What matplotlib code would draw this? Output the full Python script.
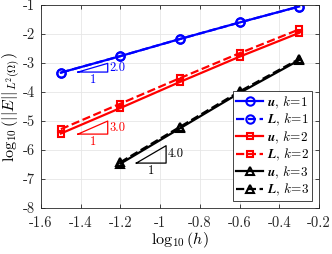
import numpy as np
import matplotlib
matplotlib.use("Agg")
import matplotlib.pyplot as plt

plt.rcParams['mathtext.fontset'] = 'cm'
plt.rcParams['font.family'] = 'serif'
plt.rcParams['font.serif'] = ['cmr10', 'DejaVu Serif']
plt.rcParams['axes.unicode_minus'] = False

# data (log10 of mesh size and error)
h12 = [-1.5, -1.2, -0.9, -0.6, -0.3]
h3 = [-1.2, -0.9, -0.6, -0.3]
u1 = [-3.33, -2.76, -2.17, -1.60, -1.05]
L1 = [-3.33, -2.76, -2.17, -1.60, -1.05]
u2 = [-5.43, -4.55, -3.65, -2.78, -1.96]
L2 = [-5.28, -4.40, -3.52, -2.66, -1.84]
u3 = [-6.47, -5.25, -4.03, -2.90]
L3 = [-6.42, -5.20, -3.98, -2.86]

xticks = [-1.6, -1.4, -1.2, -1.0, -0.8, -0.6, -0.4, -0.2]
xticklabels = ['-1.6', '-1.4', '-1.2', '-1', '-0.8', '-0.6', '-0.4', '-0.2']
yticks = [-8, -7, -6, -5, -4, -3, -2, -1]
yticklabels = ['-8', '-7', '-6', '-5', '-4', '-3', '-2', '-1']

# slope triangles: (x left, y bottom, width, slope, color)
slopes = [(-1.414, -3.31, 0.15, 2.0, 'blue'),
          (-1.414, -5.45, 0.15, 3.0, 'red'),
          (-1.12, -6.45, 0.15, 4.0, 'black')]

fig = plt.figure(figsize=(3.32, 2.54), dpi=100)
ax = fig.add_axes([0.1235, 0.181, 0.8373, 0.799])

ms = dict(markerfacecolor='none', markeredgewidth=1.5)
ax.plot(h12, u1, '-', color='blue', marker='o', ms=6, lw=1.6, label=r'$\mathbfit{u}$, $k\!=\!1$', **ms)
ax.plot(h12, L1, '--', color='blue', marker='o', ms=6, lw=1.6, label=r'$\mathbfit{L}$, $k\!=\!1$', **ms)
ax.plot(h12, u2, '-', color='red', marker='s', ms=5, lw=1.6, label=r'$\mathbfit{u}$, $k\!=\!2$', **ms)
ax.plot(h12, L2, '--', color='red', marker='s', ms=5, lw=1.6, label=r'$\mathbfit{L}$, $k\!=\!2$', **ms)
ax.plot(h3, u3, '-', color='black', marker='^', ms=6, lw=1.6, label=r'$\mathbfit{u}$, $k\!=\!3$', **ms)
ax.plot(h3, L3, '--', color='black', marker='^', ms=6, lw=1.6, label=r'$\mathbfit{L}$, $k\!=\!3$', **ms)

for x0, y0, w, s, c in slopes:
    ax.plot([x0, x0 + w, x0 + w, x0], [y0, y0, y0 + s * w, y0], color=c, lw=0.9)
    ax.text(x0 + w + 0.01, y0 + s * w / 2, '%.1f' % s, color=c, fontsize=9, va='center', ha='left')
    ax.text(x0 + w / 2, y0 - 0.05, '1', color=c, fontsize=9, va='top', ha='center')

ax.set_xlim(-1.6, -0.2)
ax.set_ylim(-8, -1)
ax.set_xticks(xticks)
ax.set_xticklabels(xticklabels)
ax.set_yticks(yticks)
ax.set_yticklabels(yticklabels)
ax.tick_params(direction='in', labelsize=10.5, length=3, width=0.6, top=True, right=True,
               colors='#262626', pad=4)
ax.tick_params(axis='x', pad=6)
ax.grid(True, color='#e6e6e6', lw=0.6)
for sp in ax.spines.values():
    sp.set_linewidth(0.6)
    sp.set_color('#262626')

ax.set_xlabel(r'$\log_{10}(h)$', fontsize=11.5, labelpad=0)
ax.set_ylabel(r'$\log_{10}(||E||_{L^2(\Omega)})$', fontsize=11.5, labelpad=0)

leg = ax.legend(loc='lower right', fontsize=9.5, handlelength=2.0, handletextpad=0.3,
                labelspacing=0.1, borderpad=0.25, borderaxespad=0.5, fancybox=False,
                framealpha=1, edgecolor='#262626')
leg.get_frame().set_linewidth(0.6)

fig.savefig('out.png', dpi=100)
